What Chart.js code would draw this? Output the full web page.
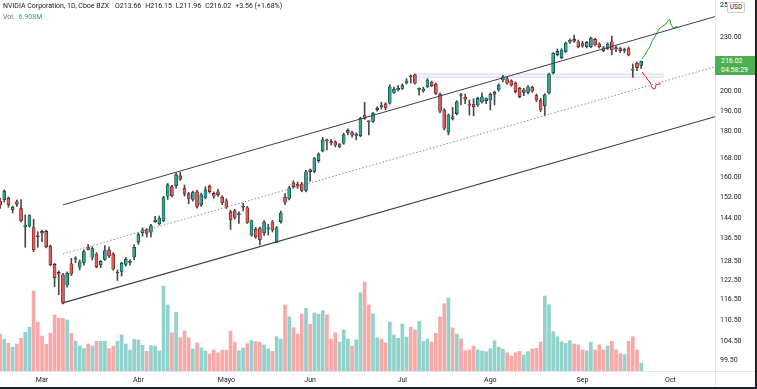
<!DOCTYPE html>
<html>
<head>
<meta charset="utf-8">
<script src="https://cdn.jsdelivr.net/npm/chart.js@4.4.1/dist/chart.umd.min.js"></script>
<style>
  html, body { margin: 0; padding: 0; background: #1e222d; width: 757px; height: 389px; overflow: hidden; }
  #wrap { position: relative; width: 755px; height: 387px; background: #fff; overflow: hidden; }
  #legend { position: absolute; left: 3px; top: 1px; font: 7px Roboto, sans-serif; color: #131722; line-height: 10.5px; white-space: nowrap; }
  #legend span { margin-left: 4px; }
  #legend .vol { color: #26a69a; margin-left: 2px; }
  #legend .muted { color: #6a6d78; margin-left: 0; }
  #usd { position: absolute; left: 727px; top: 2px; width: 16px; height: 9px; border: 1px solid #c5c8d0; border-radius: 2px; background: #fff;
         font: 6.5px Roboto, sans-serif; color: #131722; text-align: center; line-height: 9px; }
  #last { position: absolute; left: 715px; width: 40px; height: 19px; background: #4caf50; color: #fff; font: 7px Roboto, sans-serif; }
  #last div { position: absolute; left: 6px; line-height: 8px; }
</style>
</head>
<body>
<div id="wrap">
  <canvas id="chart" width="755" height="387"></canvas>
  <div id="legend"></div>
  <div id="usd">USD</div>
  <div id="last"><div id="lastPrice" style="top:1px"></div><div id="countdown" style="top:10px">04:58:29</div></div>
</div>
<script>
// month ticks: bar index of first trading day of each month
const monthStart = [10, 33, 54, 74, 96, 117, 139, 160];
const monthLabels = ['Mar', 'Abr', 'Mayo', 'Jun', 'Jul', 'Ago', 'Sep', 'Oct'];
const priceTicks = [250, 230, 200, 190, 180, 168, 160, 152, 144, 136.5, 128.5, 122.5, 116.5, 110.5, 104.5, 99.5];

// daily candles, one per trading day
const open = [
  150.4, 150.9, 151.4, 147.2, 150.1, 147.5, 140.6, 141.0, 140.4, 137.4,
  139.0, 139.0, 133.8, 127.6, 125.0, 124.2, 121.0, 127.8, 129.4, 126.7,
  128.3, 133.4, 130.0, 131.1, 127.5, 129.3, 132.5, 131.1, 124.8, 125.3,
  127.6, 128.3, 130.1, 135.2, 138.5, 139.7, 138.7, 142.6, 141.8, 142.9,
  152.3, 156.1, 156.5, 160.5, 155.3, 153.2, 151.0, 154.0, 148.9, 151.8,
  156.3, 153.4, 154.0, 151.9, 150.5, 146.2, 146.6, 145.2, 148.0, 147.8,
  137.7, 139.8, 140.0, 138.5, 139.9, 142.4, 135.2, 142.6, 151.9, 151.4,
  157.6, 156.9, 157.2, 154.6, 163.0, 162.4, 167.0, 171.3, 176.2, 175.4,
  175.3, 173.1, 174.7, 179.6, 179.6, 178.3, 178.1, 187.9, 184.7, 184.8,
  190.6, 192.4, 193.4, 193.8, 199.3, 200.5, 201.4, 204.2, 207.7, 208.5,
  200.8, 200.0, 202.2, 204.7, 203.5, 198.3, 190.4, 179.8, 187.1, 188.6,
  198.0, 196.8, 193.2, 193.2, 192.9, 194.4, 195.1, 195.4, 198.4, 200.5,
  205.8, 206.4, 205.3, 204.1, 201.4, 199.3, 199.3, 201.9, 197.6, 195.4,
  192.5, 199.0, 209.6, 219.8, 218.1, 221.4, 227.1, 228.6, 227.2, 226.2,
  224.3, 224.3, 228.6, 225.9, 223.7, 223.3, 227.2, 223.5, 223.2, 222.2,
  223.3, 211.5, 214.9, 213.66
];
const high = [
  151.5, 154.8, 152.0, 148.4, 150.8, 151.0, 145.1, 145.1, 143.5, 138.9,
  139.5, 139.5, 134.2, 128.0, 125.5, 124.7, 125.2, 129.6, 130.2, 129.1,
  132.5, 134.4, 133.6, 131.6, 128.9, 134.0, 133.6, 131.6, 125.8, 128.3,
  130.0, 129.1, 134.3, 138.5, 140.3, 140.0, 141.6, 144.5, 144.7, 152.2,
  157.4, 156.6, 161.8, 162.0, 156.8, 153.8, 154.3, 154.6, 153.5, 156.1,
  156.8, 154.0, 155.0, 152.5, 151.3, 146.9, 147.2, 146.2, 149.5, 148.3,
  143.2, 140.5, 140.6, 143.0, 141.6, 143.0, 140.8, 146.5, 153.3, 156.2,
  158.5, 158.0, 157.8, 162.8, 163.4, 168.4, 170.4, 177.3, 176.6, 176.3,
  175.8, 174.6, 179.3, 181.3, 180.3, 179.4, 186.9, 194.2, 185.2, 189.3,
  192.0, 194.2, 194.0, 203.3, 202.0, 203.0, 203.8, 206.5, 208.5, 209.0,
  201.7, 202.0, 206.5, 205.2, 204.2, 199.0, 191.0, 188.5, 191.7, 195.0,
  198.8, 198.4, 195.4, 196.0, 196.8, 199.1, 196.5, 199.0, 200.0, 203.8,
  208.3, 207.3, 205.9, 204.8, 201.9, 201.4, 202.8, 202.6, 198.5, 196.2,
  198.6, 209.5, 221.0, 223.0, 223.2, 227.0, 229.0, 231.2, 228.2, 227.5,
  227.4, 230.0, 229.4, 226.6, 224.5, 226.6, 230.6, 224.8, 224.0, 223.5,
  224.2, 214.5, 215.6, 216.15
];
const low = [
  147.5, 150.0, 148.0, 145.8, 148.3, 142.5, 133.4, 140.5, 131.9, 133.4,
  135.4, 133.2, 127.2, 120.5, 118.0, 115.2, 120.3, 124.0, 128.2, 125.8,
  127.4, 132.5, 129.1, 126.5, 126.5, 128.9, 129.9, 125.7, 122.4, 123.8,
  127.0, 127.4, 129.1, 134.4, 137.3, 137.0, 137.0, 142.3, 141.3, 142.5,
  151.0, 152.0, 155.5, 158.6, 152.3, 149.3, 150.3, 147.6, 148.3, 151.2,
  153.5, 151.5, 152.2, 149.0, 147.5, 139.7, 143.5, 141.9, 146.6, 141.9,
  137.3, 136.5, 134.2, 137.6, 137.7, 138.8, 135.0, 142.0, 149.0, 150.8,
  155.5, 155.4, 154.0, 154.0, 158.2, 161.8, 166.2, 170.8, 171.7, 173.8,
  173.0, 172.6, 174.2, 178.5, 177.5, 176.2, 177.6, 185.8, 178.5, 184.3,
  189.8, 190.9, 190.5, 193.3, 198.8, 200.0, 200.8, 203.6, 204.1, 203.6,
  197.9, 199.3, 201.8, 202.3, 198.2, 189.0, 180.8, 178.5, 185.5, 188.0,
  192.9, 193.5, 187.9, 187.5, 192.2, 193.8, 193.5, 190.4, 192.9, 199.8,
  204.8, 203.5, 202.5, 199.0, 196.5, 197.6, 198.5, 199.3, 194.5, 189.6,
  187.6, 198.4, 209.0, 219.0, 217.5, 221.0, 226.3, 226.8, 223.7, 224.0,
  223.6, 223.8, 224.8, 223.5, 221.4, 222.7, 219.6, 221.5, 221.0, 220.8,
  219.0, 207.2, 210.8, 211.96
];
const close = [
  148.9, 154.3, 148.9, 148.0, 149.2, 142.9, 141.3, 144.8, 132.5, 137.1,
  138.5, 133.6, 127.5, 123.3, 124.4, 115.4, 124.7, 124.5, 129.7, 128.5,
  131.9, 132.7, 133.0, 126.8, 128.6, 132.3, 130.4, 126.1, 125.0, 128.0,
  129.3, 128.5, 133.4, 137.9, 139.6, 138.4, 141.0, 143.1, 143.8, 151.7,
  156.8, 152.5, 160.9, 159.2, 153.4, 151.4, 153.7, 148.3, 152.8, 154.8,
  154.1, 152.3, 152.9, 149.8, 148.0, 143.2, 144.1, 145.5, 148.3, 142.3,
  142.9, 137.1, 136.0, 142.4, 140.2, 139.5, 140.3, 145.8, 149.9, 155.6,
  156.1, 156.6, 154.6, 162.2, 162.3, 167.9, 169.8, 176.2, 175.7, 174.8,
  173.8, 174.1, 178.5, 180.6, 178.4, 178.5, 186.3, 186.3, 184.6, 188.8,
  191.3, 192.1, 191.4, 202.1, 200.9, 201.4, 202.8, 205.2, 207.5, 204.1,
  201.1, 201.0, 205.8, 202.8, 198.8, 189.8, 181.6, 187.9, 186.3, 194.4,
  197.7, 195.8, 192.8, 192.0, 196.2, 197.0, 196.1, 198.3, 199.3, 203.1,
  207.5, 204.1, 203.1, 199.7, 197.1, 200.5, 202.2, 200.0, 195.4, 190.4,
  198.0, 209.0, 220.5, 221.6, 222.4, 226.3, 228.2, 227.6, 224.3, 224.7,
  226.8, 229.3, 225.3, 224.3, 222.0, 225.9, 222.4, 223.2, 222.0, 222.6,
  219.6, 211.1, 212.46, 216.02
];
// volume in millions
const volume = [
  31.8, 27.3, 23.8, 20.4, 23.2, 28.1, 33.3, 37.6, 68.8, 41.9,
  30.1, 23.0, 32.4, 48.2, 45.3, 45.3, 43.9, 32.4, 25.8, 21.5,
  19.2, 23.2, 21.5, 25.5, 25.5, 25.5, 19.2, 21.5, 25.5, 31.0,
  23.2, 17.8, 27.3, 26.7, 22.1, 16.9, 21.8, 21.5, 17.2, 73.1,
  56.8, 32.9, 50.5, 28.6, 34.4, 28.6, 18.9, 24.1, 19.8, 17.2,
  14.6, 18.1, 15.7, 17.8, 17.8, 34.4, 24.9, 17.5, 19.8, 23.5,
  26.1, 25.2, 24.7, 22.4, 18.9, 16.9, 29.5, 27.5, 56.8, 46.7,
  37.2, 31.8, 49.0, 53.9, 40.2, 49.9, 48.8, 51.9, 48.4, 27.5,
  32.9, 24.9, 35.3, 27.5, 21.5, 26.7, 67.3, 76.5, 56.8, 49.0,
  28.6, 27.5, 24.3, 42.1, 31.0, 28.1, 40.4, 29.2, 37.8, 35.3,
  42.7, 25.5, 27.5, 24.9, 32.4, 46.4, 57.9, 62.8, 37.0, 31.8,
  27.5, 17.5, 18.1, 21.5, 18.1, 17.2, 16.6, 19.2, 26.1, 20.6,
  18.9, 15.7, 12.9, 15.7, 16.9, 13.8, 16.6, 18.9, 19.5, 24.9,
  64.5, 57.0, 33.8, 29.5, 25.2, 23.8, 26.1, 23.2, 22.4, 18.1,
  17.5, 24.7, 18.1, 22.4, 18.1, 21.5, 25.5, 18.1, 14.9, 14.0,
  25.5, 29.5, 18.1, 6.908
];

// drawings: [bar index, price]
const channelTop = [[15, 148.9], [170.62, 242.5]];
const channelMid = [[15, 131.1], [170.62, 213.0]];
const channelLow = [[15, 115.5], [170.62, 187.1]];
const zone = { from: 99, to: 158.2, top: 209.0, bottom: 207.3 };
const arrowUp = [
  [153.2, 217.3], [153.9, 219.5], [154.4, 221.8], [154.9, 223.6], [155.3, 225.3], [155.6, 227.7],
  [156.1, 229.4], [156.5, 231.2], [157.0, 233.6], [157.5, 235.5], [158.2, 236.7], [158.9, 237.9],
  [159.4, 239.8], [159.8, 241.0], [160.1, 237.9], [160.6, 235.5], [161.3, 236.1], [161.8, 236.1]
];
const arrowDown = [
  [153.2, 210.1], [153.7, 208.5], [154.2, 207.4], [154.6, 205.8], [155.1, 204.7], [155.4, 203.1],
  [155.6, 201.6], [156.3, 201.0], [156.5, 203.1], [157.3, 203.7], [157.7, 203.7]
];

const up = '#26a69a';
const down = '#ef5350';
const rising = close.map((c, i) => c >= open[i]);
const last = close.length - 1;
const points = list => list.map(([x, y]) => ({ x, y }));

const zonePlugin = {
  id: 'zone',
  beforeDatasetsDraw(chart) {
    const { ctx, scales: { x, y } } = chart;
    const left = x.getPixelForValue(zone.from);
    const right = x.getPixelForValue(zone.to);
    const top = y.getPixelForValue(zone.top);
    const bottom = y.getPixelForValue(zone.bottom);
    ctx.save();
    ctx.fillStyle = 'rgba(215, 226, 242, 0.3)';
    ctx.fillRect(left, top, right - left, bottom - top);
    ctx.strokeStyle = '#c6d4e8';
    ctx.lineWidth = 0.8;
    ctx.strokeRect(left, top, right - left, bottom - top);
    ctx.restore();
  },
};

const framePlugin = {
  id: 'frame',
  afterDraw(chart) {
    const { ctx, chartArea, width, height } = chart;
    ctx.save();
    ctx.strokeStyle = '#e0e3eb';
    ctx.lineWidth = 1;
    ctx.beginPath();
    ctx.moveTo(0, Math.round(chartArea.bottom) + 0.5);
    ctx.lineTo(width, Math.round(chartArea.bottom) + 0.5);
    ctx.moveTo(Math.round(chartArea.right) + 0.5, 0);
    ctx.lineTo(Math.round(chartArea.right) + 0.5, height);
    ctx.stroke();
    ctx.restore();
  },
};

const axisFont = { family: 'Roboto', size: 7 };

const chart = new Chart(document.querySelector('#chart'), {
  type: 'bar',
  data: {
    datasets: [
      {
        type: 'line', data: points(channelTop), borderColor: '#3d4048', borderWidth: 1,
        pointRadius: 0, order: 0,
      },
      {
        type: 'line', data: points(channelMid), borderColor: '#8a8d96', borderWidth: 1,
        borderDash: [1.5, 2], pointRadius: 0, order: 0,
      },
      {
        type: 'line', data: points(channelLow), borderColor: '#3d4048', borderWidth: 1.2,
        pointRadius: 0, order: 0,
      },
      {
        type: 'line', data: points(arrowUp), borderColor: '#1fa31f', borderWidth: 1,
        pointRadius: 0, order: 0,
      },
      {
        type: 'line', data: points(arrowDown), borderColor: '#ff1a1a', borderWidth: 1,
        pointRadius: 0, order: 0,
      },
      {
        label: 'body',
        data: open.map((o, i) => ({ x: i, y: [o, close[i]] })),
        backgroundColor: rising.map(r => (r ? up : down)),
        borderColor: '#1d1d1d',
        borderWidth: 0.6,
        borderSkipped: false,
        barThickness: 3,
        minBarLength: 1,
        grouped: false,
        order: 1,
      },
      {
        label: 'wick',
        data: low.map((l, i) => ({ x: i, y: [l, high[i]] })),
        backgroundColor: '#4a4a4a',
        barThickness: 1,
        grouped: false,
        order: 2,
      },
      {
        label: 'volume',
        yAxisID: 'yVol',
        data: volume.map((v, i) => ({ x: i, y: v })),
        backgroundColor: rising.map(r => (r ? 'rgba(38,166,154,0.5)' : 'rgba(239,83,80,0.5)')),
        barThickness: 3,
        grouped: false,
        order: 4,
      },
    ],
  },
  options: {
    responsive: false,
    animation: false,
    devicePixelRatio: 1,
    layout: { padding: 0 },
    plugins: { legend: { display: false }, tooltip: { enabled: false } },
    scales: {
      x: {
        type: 'linear',
        min: -0.024,
        max: 170.62,
        offset: false,
        grid: { display: false, drawTicks: false },
        border: { display: false },
        ticks: {
          autoSkip: false, maxRotation: 0, padding: 5, color: '#131722', font: axisFont,
          callback: (value, index) => monthLabels[index],
        },
        afterBuildTicks: scale => { scale.ticks = monthStart.map(value => ({ value })); },
        afterFit: scale => { scale.height = 16; scale.paddingLeft = 0; scale.paddingRight = 0; },
      },
      y: {
        type: 'logarithmic',
        position: 'right',
        min: 96.82,
        max: 253.17,
        grid: { display: false, drawTicks: false },
        border: { display: false },
        ticks: {
          autoSkip: false, padding: 5, color: '#131722', font: axisFont,
          callback: value => Number(value).toFixed(2),
        },
        afterBuildTicks: scale => { scale.ticks = priceTicks.map(value => ({ value })); },
        afterFit: scale => { scale.width = 40; scale.paddingTop = 0; scale.paddingBottom = 0; },
      },
      yVol: { type: 'linear', display: false, min: 0, max: 319 },
    },
  },
  plugins: [zonePlugin, framePlugin],
});

// legend and last-price badge
const change = close[last] - close[last - 1];
const pct = change / close[last - 1] * 100;
const sign = change >= 0 ? '+' : '';
document.querySelector('#legend').innerHTML =
  `<div>NVIDIA Corporation, 1D, Cboe BZX&nbsp;<span>O${open[last].toFixed(2)}</span><span>H${high[last].toFixed(2)}</span>` +
  `<span>L${low[last].toFixed(2)}</span><span>C${close[last].toFixed(2)}</span>` +
  `<span>${sign}${change.toFixed(2)} (${sign}${pct.toFixed(2)}%)</span></div>` +
  `<div><span class="muted">Vol.</span><span class="vol">&nbsp;${volume[last].toFixed(3)}M</span></div>`;

const badge = document.querySelector('#last');
badge.style.top = `${chart.scales.y.getPixelForValue(close[last]) - 5.5}px`;
document.querySelector('#lastPrice').textContent = close[last].toFixed(2);
</script>
</body>
</html>
